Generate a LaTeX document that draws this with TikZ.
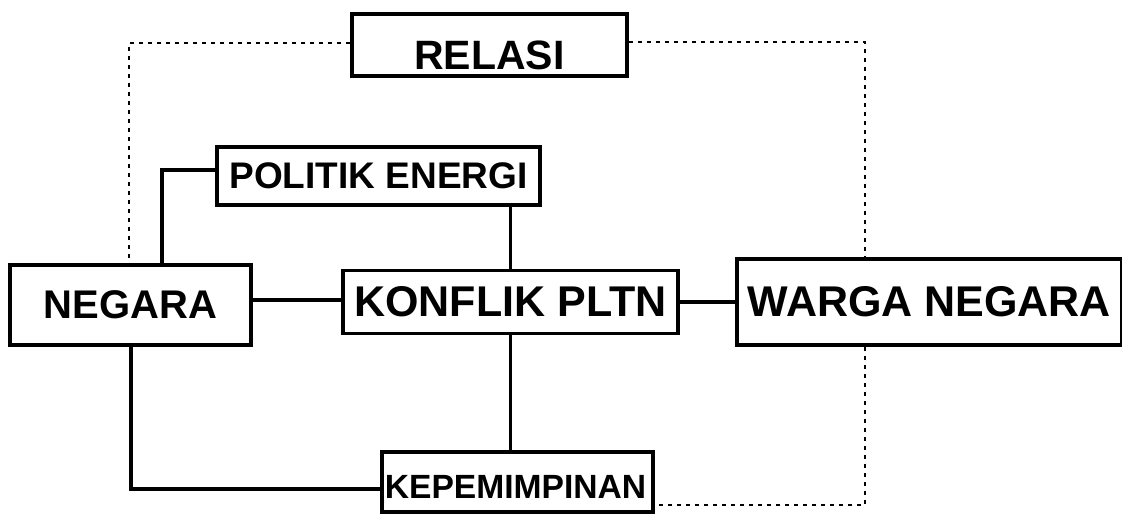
\documentclass[tikz,border=0pt]{standalone}
\usepackage{fontspec}
\setmainfont{Liberation Sans}
\usetikzlibrary{backgrounds}
\begin{document}
\begin{tikzpicture}[x=0.5pt,y=-0.5pt,
  box/.style={draw=black, fill=white, line width=1.9pt, inner sep=0pt},
  link/.style={line width=1.8pt},
  dashline/.style={line width=0.7pt, dash pattern=on 2.2pt off 2.3pt}]
\useasboundingbox (0,0) rectangle (1122,514);

\node[box, minimum width=137.5pt, minimum height=31pt,
  label={[font=\fontsize{20.5}{22}\selectfont\bfseries, yshift=-5pt]center:RELASI}] (relasi) at (489.5,45) {};
\node[box, minimum width=161.5pt, minimum height=29pt,
  font=\fontsize{18.5}{20}\selectfont\bfseries] (politik) at (378.5,176) {POLITIK ENERGI};
\node[box, minimum width=120.5pt, minimum height=40pt,
  font=\fontsize{20}{22}\selectfont\bfseries] (negara) at (130.5,305) {NEGARA};
\node[box, minimum width=167.5pt, minimum height=31.5pt,
  font=\fontsize{21.5}{23}\selectfont\bfseries] (konflik) at (510.5,302) {KONFLIK PLTN};
\node[box, minimum width=192.5pt, minimum height=43pt,
  font=\fontsize{21.5}{23}\selectfont\bfseries] (warga) at (929.5,302) {WARGA NEGARA};
\node[box, minimum width=135.5pt, minimum height=30pt,
  label={[font=\fontsize{16.8}{18}\selectfont\bfseries, yshift=-2.5pt, xshift=-1pt]center:KEPEMIMPINAN}] (kepem) at (517.5,482) {};

\coordinate (pe) at (162,170);
\coordinate (nk) at (0,300);
\coordinate (nb) at (131,489);
\coordinate (dtl) at (129,43);
\coordinate (dtr) at (865,42);
\coordinate (dbr) at (865,505);

\begin{scope}[on background layer]
  \draw[link] (politik.west |- pe) -| (negara.north -| pe);
  \draw[link] (konflik.north |- politik.south) -- (konflik.north);
  \draw[link] (negara.east |- nk) -- (konflik.west |- nk);
  \draw[link] (konflik.east) -- (konflik.east -| warga.west);
  \draw[link] (konflik.south) -- (konflik.south |- kepem.north);
  \draw[link] (negara.south -| nb) |- (kepem.west |- nb);
  \draw[dashline] (relasi.west |- dtl) -| (negara.north -| dtl);
  \draw[dashline] (relasi.east |- dtr) -| (warga.north -| dtr);
  \draw[dashline] (warga.south -| dbr) |- (kepem.east |- dbr);
\end{scope}
\end{tikzpicture}
\end{document}
